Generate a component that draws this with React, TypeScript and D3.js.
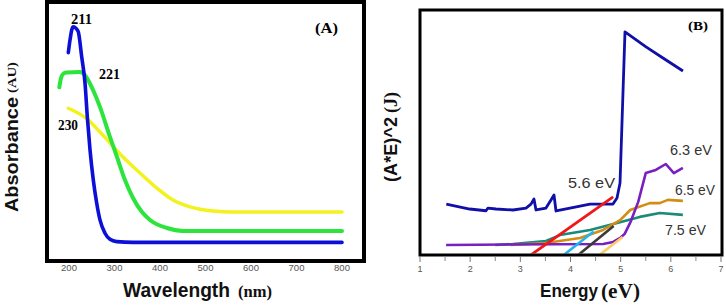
import React from "react";
import * as d3 from "d3";

// ---------- Panel A data (wavelength nm, absorbance a.u.) ----------
const wavelengthTicks = [200, 300, 400, 500, 600, 700, 800];
const blueWavelength = [198.5, 202.2, 206, 209.5, 215.4, 220.4, 227.9, 235.2, 240.2, 246.2, 253.4, 260.9, 268.1, 279.1, 290.1, 304.8, 340.7, 800];
const blueAbs = [0.806, 0.854, 0.893, 0.905, 0.899, 0.886, 0.79, 0.689, 0.561, 0.433, 0.318, 0.229, 0.165, 0.114, 0.091, 0.082, 0.079, 0.079];
const greenWavelength = [178.7, 182, 186.8, 195, 224, 235, 252.7, 268, 290, 305.5, 323, 340.7, 360.4, 378, 415.4, 450.5, 800];
const greenAbs = [0.673, 0.705, 0.724, 0.73, 0.732, 0.72, 0.663, 0.598, 0.483, 0.406, 0.318, 0.249, 0.195, 0.165, 0.134, 0.123, 0.123];
const yellowWavelength = [198.5, 239.6, 268, 290, 318.7, 356, 393, 428.6, 466, 516.5, 560.4, 800];
const yellowAbs = [0.593, 0.552, 0.502, 0.46, 0.406, 0.345, 0.287, 0.241, 0.215, 0.199, 0.195, 0.195];
const peakLabels = ["211", "221", "230"];

// ---------- Panel B data (energy eV, (A*E)^2) ----------
const energyTicks = [1, 2, 3, 4, 5, 6, 7];
const energyMinorTicks = [1.5, 2.5, 3.5, 4.5, 5.5, 6.5];
const navyEnergy = [1.524, 1.99, 2.316, 2.355, 2.515, 2.854, 3.113, 3.212, 3.272, 3.312, 3.511, 3.611, 3.671, 3.711, 3.99, 4.389, 4.847, 4.927, 4.987, 5.086, 5.505, 5.843, 6.242];
const navyValue = [0.211, 0.191, 0.184, 0.195, 0.191, 0.187, 0.195, 0.211, 0.232, 0.187, 0.195, 0.228, 0.248, 0.183, 0.195, 0.211, 0.211, 0.236, 0.297, 0.911, 0.85, 0.805, 0.752];
const purpleEnergy = [1.52, 4.65, 4.85, 5.0, 5.08, 5.2, 5.35, 5.5, 5.7, 5.9, 6.06, 6.24];
const purpleValue = [0.045, 0.049, 0.057, 0.075, 0.09, 0.14, 0.22, 0.337, 0.35, 0.374, 0.337, 0.358];
const orangeEnergy = [2.8, 3.51, 4.19, 4.65, 4.99, 5.19, 5.58, 5.78, 5.94, 6.24];
const orangeValue = [0.045, 0.053, 0.073, 0.106, 0.146, 0.187, 0.215, 0.215, 0.228, 0.224];
const tealEnergy = [2.5, 2.85, 3.51, 3.79, 4.39, 4.93, 5.38, 5.78, 6.24];
const tealValue = [0.045, 0.049, 0.061, 0.085, 0.106, 0.134, 0.159, 0.175, 0.167];
const redFitEnergy = [3.18, 4.85];
const redFitValue = [0, 0.24];
const cyanFitEnergy = [3.84, 4.46];
const cyanFitValue = [0, 0.1];
const grayFitEnergy = [4.13, 4.86];
const grayFitValue = [0, 0.122];
const lightFitEnergy = [4.55, 5.04];
const lightFitValue = [0, 0.077];
const gapLabels = ["5.6 eV", "6.3 eV", "6.5 eV", "7.5 eV"];

const SANS = "Liberation Sans, Arial, Helvetica, sans-serif";
const SERIF = "Liberation Serif, Times New Roman, serif";

const zip = (xs: number[], ys: number[]): [number, number][] => xs.map((x, i) => [x, ys[i]]);

export default function App() {
  const xA = d3.scaleLinear().domain([200, 800]).range([69, 342]);
  const yA = d3.scaleLinear().domain([0, 1]).range([263, 2]);
  const lineA = d3
    .line<[number, number]>()
    .x((d) => xA(d[0]))
    .y((d) => yA(d[1]))
    .curve(d3.curveMonotoneX);

  const xB = d3.scaleLinear().domain([1, 7]).range([420, 721]);
  const yB = d3.scaleLinear().domain([0, 1]).range([256, 10]);
  const lineB = d3
    .line<[number, number]>()
    .x((d) => xB(d[0]))
    .y((d) => yB(d[1]));

  const seriesA = [
    { d: zip(yellowWavelength, yellowAbs), c: "#f2f21e", w: 3.5 },
    { d: zip(greenWavelength, greenAbs), c: "#2ce43c", w: 4 },
    { d: zip(blueWavelength, blueAbs), c: "#0b0fd8", w: 3.6 },
  ];
  const seriesB = [
    { d: zip(tealEnergy, tealValue), c: "#1a8a7c", w: 2.6 },
    { d: zip(orangeEnergy, orangeValue), c: "#d38d12", w: 2.6 },
    { d: zip(purpleEnergy, purpleValue), c: "#7a1fc0", w: 2.6 },
    { d: zip(navyEnergy, navyValue), c: "#1010a8", w: 2.8 },
    { d: zip(redFitEnergy, redFitValue), c: "#f21616", w: 2.8 },
    { d: zip(cyanFitEnergy, cyanFitValue), c: "#22b2f0", w: 2.6 },
    { d: zip(grayFitEnergy, grayFitValue), c: "#3a3a3a", w: 2.6 },
    { d: zip(lightFitEnergy, lightFitValue), c: "#fccc6a", w: 2.6 },
  ];

  return (
    <svg
      width={726}
      height={308}
      viewBox="0 0 726 308"
      style={{ position: "absolute", left: 0, top: 0, background: "#fff" }}
    >
      <defs>
        <clipPath id="clipA">
          <rect x={49} y={4} width={313} height={255} />
        </clipPath>
        <clipPath id="clipB">
          <rect x={421.5} y={11.5} width={299} height={242} />
        </clipPath>
      </defs>
      <rect x={0} y={0} width={726} height={308} fill="#fff" />

      {/* ---------------- Panel A ---------------- */}
      <g clipPath="url(#clipA)">
        {seriesA.map((s, i) => (
          <path key={i} d={lineA(s.d) || ""} fill="none" stroke={s.c} strokeWidth={s.w} strokeLinejoin="round" strokeLinecap="round" />
        ))}
      </g>
      <rect x={47} y={2} width={317} height={259} fill="none" stroke="#000" strokeWidth={4} />
      {wavelengthTicks.map((t) => (
        <text key={t} x={xA(t)} y={271} fontFamily={SANS} fontSize={9.5} fill="#555" textAnchor="middle">
          {t}
        </text>
      ))}
      <text x={71} y={24} fontFamily={SERIF} fontWeight="bold" fontSize={15} textLength={21} lengthAdjust="spacingAndGlyphs">{peakLabels[0]}</text>
      <text x={99} y={79} fontFamily={SERIF} fontWeight="bold" fontSize={15} textLength={21} lengthAdjust="spacingAndGlyphs">{peakLabels[1]}</text>
      <text x={58} y={130} fontFamily={SERIF} fontWeight="bold" fontSize={15} textLength={20} lengthAdjust="spacingAndGlyphs">{peakLabels[2]}</text>
      <text x={315} y={33} fontFamily={SERIF} fontWeight="bold" fontSize={15} textLength={23} lengthAdjust="spacingAndGlyphs">(A)</text>

      <text x={123} y={297} fontFamily={SANS} fontWeight="bold" fontSize={19.5} fill="#111" textLength={107} lengthAdjust="spacingAndGlyphs">Wavelength</text>
      <text x={238} y={297} fontFamily={SERIF} fontWeight="bold" fontSize={16.5} fill="#111" textLength={34} lengthAdjust="spacingAndGlyphs">(nm)</text>
      <text transform="translate(17.5,212) rotate(-90)" fontFamily={SANS} fontWeight="bold" fontSize={19} fill="#111" textLength={115} lengthAdjust="spacingAndGlyphs">Absorbance</text>
      <text transform="translate(15.5,93) rotate(-90)" fontFamily={SERIF} fontWeight="bold" fontSize={13} fill="#111" textLength={31} lengthAdjust="spacingAndGlyphs">(AU)</text>

      {/* ---------------- Panel B ---------------- */}
      <g clipPath="url(#clipB)">
        {seriesB.map((s, i) => (
          <path key={i} d={lineB(s.d) || ""} fill="none" stroke={s.c} strokeWidth={s.w} strokeLinejoin="round" />
        ))}
      </g>
      <rect x={420} y={10} width={302} height={245} fill="none" stroke="#000" strokeWidth={3} />
      {energyTicks.map((t) => (
        <g key={t}>
          <line x1={xB(t)} x2={xB(t)} y1={256.5} y2={262} stroke="#777" strokeWidth={1} />
          <text x={xB(t)} y={272} fontFamily={SANS} fontSize={9} fill="#555" textAnchor="middle">
            {t}
          </text>
        </g>
      ))}
      {energyMinorTicks.map((t) => (
        <line key={t} x1={xB(t)} x2={xB(t)} y1={256.5} y2={261} stroke="#888" strokeWidth={1} />
      ))}
      <text x={688} y={30} fontFamily={SERIF} fontWeight="bold" fontSize={13} textLength={20} lengthAdjust="spacingAndGlyphs">(B)</text>
      <text x={568} y={188} fontFamily={SANS} fontSize={15} fill="#333" textLength={47} lengthAdjust="spacingAndGlyphs">{gapLabels[0]}</text>
      <text x={670} y={155} fontFamily={SANS} fontSize={15} fill="#333" textLength={42} lengthAdjust="spacingAndGlyphs">{gapLabels[1]}</text>
      <text x={675} y={195} fontFamily={SANS} fontSize={15} fill="#333" textLength={40} lengthAdjust="spacingAndGlyphs">{gapLabels[2]}</text>
      <text x={665} y={235} fontFamily={SANS} fontSize={15} fill="#333" textLength={41} lengthAdjust="spacingAndGlyphs">{gapLabels[3]}</text>

      <text x={540} y={297} fontFamily={SANS} fontWeight="bold" fontSize={17.5} fill="#111" textLength={58} lengthAdjust="spacingAndGlyphs">Energy</text>
      <text x={601} y={298} fontFamily={SERIF} fontWeight="bold" fontSize={21} fill="#111" textLength={39} lengthAdjust="spacingAndGlyphs">(eV)</text>
      <text transform="translate(397,182) rotate(-90)" fontFamily={SANS} fontWeight="bold" fontSize={18} fill="#111" textLength={65} lengthAdjust="spacingAndGlyphs">(A*E)^2</text>
      <text transform="translate(397,113) rotate(-90)" fontFamily={SERIF} fontWeight="bold" fontSize={18} fill="#111" textLength={21} lengthAdjust="spacingAndGlyphs">(J)</text>
    </svg>
  );
}
